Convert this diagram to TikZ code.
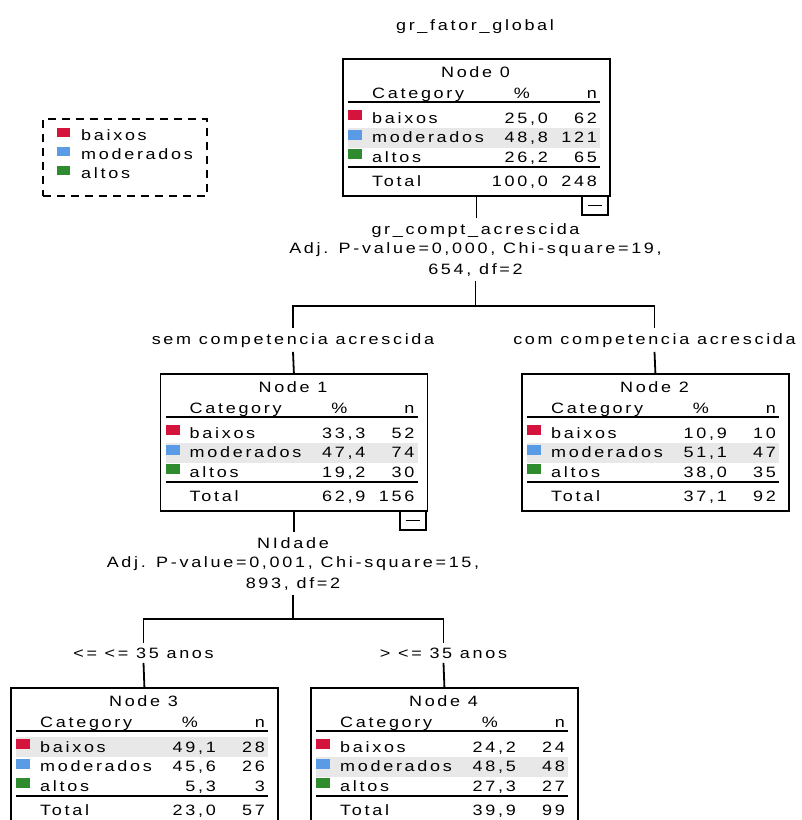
\documentclass[tikz,border=0pt]{standalone}
\usepackage{fontspec}
\setmainfont[FakeStretch=1.2,LetterSpace=18]{Liberation Sans}
\usetikzlibrary{calc}
\definecolor{cbx}{HTML}{D4143C}
\definecolor{cmd}{HTML}{5A9BE6}
\definecolor{cal}{HTML}{2E8B2E}
\tikzset{
 txt/.style={inner sep=0pt, font=\fontsize{15}{19}\selectfont, text=black},
 box/.style={draw, line width=1.8pt, inner sep=0pt},
 rule/.style={line width=1.8pt},
 conn/.style={line width=1.8pt},
 lbl/.style={txt, inner xsep=0pt, inner ysep=4.5pt},
 hl/.style={fill=black!9},
}
\newcommand\dtframe[3]{%
  \fill[hl] (6,{30.5+19.5*#3}) rectangle (258,{50.5+19.5*#3});
  \node[box, anchor=north west, minimum width=267pt, minimum height=137pt] (#1) at (0,0) {};
  \node[txt, anchor=base] (#1-t) at (133.5,19) {#2};
  \node[txt, anchor=base west] (#1-c) at (30,40) {Category};
  \node[txt, anchor=base east] (#1-p) at (188,40) {\%};
  \node[txt, anchor=base east] (#1-n) at (255,40) {n};
  \draw[rule] (6,44) -- (258,44);
  \draw[rule] (6,109) -- (258,109);
}
\newcommand\dtrow[6]{%
  \pgfmathsetmacro\dtb{45.5+19.5*#2}
  \fill[#3] (6,{\dtb-13}) rectangle (20,{\dtb-3});
  \node[txt, anchor=base west] (#1-l#2) at (30,\dtb) {#4};
  \node[txt, anchor=base east] (#1-p#2) at (206,\dtb) {#5};
  \node[txt, anchor=base east] (#1-n#2) at (255,\dtb) {#6};
}
\newcommand\dttotal[3]{%
  \node[txt, anchor=base west] (#1-lt) at (30,128) {Total};
  \node[txt, anchor=base east] (#1-pt) at (206,128) {#2};
  \node[txt, anchor=base east] (#1-nt) at (255,128) {#3};
}
\newcommand\dtminus[1]{%
  \node[box, anchor=north east, minimum width=26pt, minimum height=19pt] (#1-m) at (267,137) {};
  \draw[line width=1.8pt] ([xshift=-7pt]#1-m.center) -- ([xshift=7pt]#1-m.center);
}
\begin{document}
\begin{tikzpicture}[x=1pt,y=-1pt]
\useasboundingbox (0,0) rectangle (802,820);
\clip (0,0) rectangle (802,820);
\fill[white] (0,0) rectangle (802,820);

\node[txt, anchor=base] (title) at (475,30) {gr\_fator\_global};

% legend
\node[draw, dash pattern=on 8pt off 6pt, line width=1.6pt, anchor=north west,
      minimum width=164pt, minimum height=77pt, inner sep=0pt] (leg) at (42,118) {};
\fill[cbx] (57,128) rectangle (70,137);
\node[txt, anchor=base west] (leg1) at (81,140) {baixos};
\fill[cmd] (57,147) rectangle (70,156);
\node[txt, anchor=base west] (leg2) at (81,159) {moderados};
\fill[cal] (57,166) rectangle (70,175);
\node[txt, anchor=base west] (leg3) at (81,178) {altos};

% node 0
\begin{scope}[shift={(342,58)}]
 \dtframe{n0}{Node 0}{2}
 \dtrow{n0}{1}{cbx}{baixos}{25,0}{62}
 \dtrow{n0}{2}{cmd}{moderados}{48,8}{121}
 \dtrow{n0}{3}{cal}{altos}{26,2}{65}
 \dttotal{n0}{100,0}{248}
 \dtminus{n0}
\end{scope}

% node 1
\begin{scope}[shift={(159.5,373)}]
 \dtframe{n1}{Node 1}{2}
 \dtrow{n1}{1}{cbx}{baixos}{33,3}{52}
 \dtrow{n1}{2}{cmd}{moderados}{47,4}{74}
 \dtrow{n1}{3}{cal}{altos}{19,2}{30}
 \dttotal{n1}{62,9}{156}
 \dtminus{n1}
\end{scope}

% node 2
\begin{scope}[shift={(521,373)}]
 \dtframe{n2}{Node 2}{2}
 \dtrow{n2}{1}{cbx}{baixos}{10,9}{10}
 \dtrow{n2}{2}{cmd}{moderados}{51,1}{47}
 \dtrow{n2}{3}{cal}{altos}{38,0}{35}
 \dttotal{n2}{37,1}{92}
\end{scope}

% node 3
\begin{scope}[shift={(10,687)}]
 \dtframe{n3}{Node 3}{1}
 \dtrow{n3}{1}{cbx}{baixos}{49,1}{28}
 \dtrow{n3}{2}{cmd}{moderados}{45,6}{26}
 \dtrow{n3}{3}{cal}{altos}{5,3}{3}
 \dttotal{n3}{23,0}{57}
\end{scope}

% node 4
\begin{scope}[shift={(310,687)}]
 \dtframe{n4}{Node 4}{2}
 \dtrow{n4}{1}{cbx}{baixos}{24,2}{24}
 \dtrow{n4}{2}{cmd}{moderados}{48,5}{48}
 \dtrow{n4}{3}{cal}{altos}{27,3}{27}
 \dttotal{n4}{39,9}{99}
\end{scope}

% split 0
\node[lbl, anchor=base] (s0a) at (475.5,234) {gr\_compt\_acrescida};
\node[lbl, anchor=base] (s0b) at (475.5,253) {Adj. P-value=0,000, Chi-square=19,};
\node[lbl, anchor=base] (s0c) at (475.5,274) {654, df=2};
\coordinate (j0) at (475.5,306);
\coordinate (j0l) at (293,306);
\coordinate (j0r) at (654.5,306);
\node[lbl, anchor=base] (b1) at (293,344) {sem competencia acrescida};
\node[lbl, anchor=base] (b2) at (654.5,344) {com competencia acrescida};
\draw[conn] (n0.south) -- (n0.south |- s0a.north);
\draw[conn] (s0c.south) -- (j0);
\draw[conn, line cap=rect] (j0l) -- (j0r);
\draw[conn] (j0l) -- (j0l |- b1.north);
\draw[conn] (j0r) -- (j0r |- b2.north);
\draw[conn] (b1.south) -- (n1.north);
\draw[conn] (b2.south) -- (n2.north);

% split 1
\node[lbl, anchor=base] (s1a) at (293,548) {NIdade};
\node[lbl, anchor=base] (s1b) at (293,567) {Adj. P-value=0,001, Chi-square=15,};
\node[lbl, anchor=base] (s1c) at (293,588) {893, df=2};
\coordinate (j1) at (293,619);
\coordinate (j1l) at (143.5,619);
\coordinate (j1r) at (443.5,619);
\node[lbl, anchor=base] (b3) at (143.5,658) {<= <= 35 anos};
\node[lbl, anchor=base] (b4) at (443.5,658) {> <= 35 anos};
\draw[conn] (n1.south) -- (n1.south |- s1a.north);
\draw[conn] (s1c.south) -- (j1);
\draw[conn, line cap=rect] (j1l) -- (j1r);
\draw[conn] (j1l) -- (j1l |- b3.north);
\draw[conn] (j1r) -- (j1r |- b4.north);
\draw[conn] (b3.south) -- (n3.north);
\draw[conn] (b4.south) -- (n4.north);
\end{tikzpicture}
\end{document}
